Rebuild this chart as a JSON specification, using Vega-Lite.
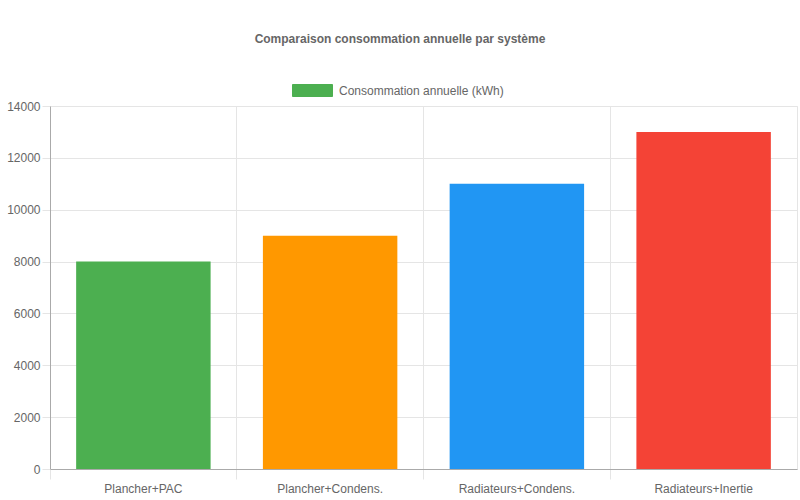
{
  "$schema": "https://vega.github.io/schema/vega-lite/v6.json",
  "autosize": "none",
  "width": 747,
  "height": 363,
  "padding": {"left": 50, "top": 106, "right": 3, "bottom": 31},
  "background": "white",
  "config": {
    "font": "Liberation Sans",
    "view": {"stroke": "#e5e5e5", "strokeWidth": 1}
  },
  "title": {
    "text": "Comparaison consommation annuelle par système",
    "font": "Liberation Sans",
    "fontSize": 12,
    "fontWeight": "bold",
    "color": "#666666",
    "anchor": "middle",
    "frame": "group",
    "dx": -23.5,
    "offset": 24
  },
  "data": {
    "values": [
      {"systeme": "Plancher+PAC", "conso": 8000, "serie": "Consommation annuelle (kWh)"},
      {"systeme": "Plancher+Condens.", "conso": 9000, "serie": "Consommation annuelle (kWh)"},
      {"systeme": "Radiateurs+Condens.", "conso": 11000, "serie": "Consommation annuelle (kWh)"},
      {"systeme": "Radiateurs+Inertie", "conso": 13000, "serie": "Consommation annuelle (kWh)"}
    ]
  },
  "mark": {"type": "bar", "strokeWidth": 0},
  "encoding": {
    "x": {
      "field": "systeme",
      "type": "nominal",
      "sort": null,
      "scale": {"paddingInner": 0.28, "paddingOuter": 0.14},
      "axis": {
        "title": null,
        "bandPosition": -0.19444,
        "labelOffset": 0,
        "labelAngle": 0,
        "labelFont": "Liberation Sans",
        "labelFontSize": 12,
        "labelColor": "#666666",
        "labelPadding": 4,
        "grid": true,
        "gridColor": "#e5e5e5",
        "tickColor": "#e5e5e5",
        "tickSize": 10,
        "domainColor": "#aaaaaa"
      }
    },
    "y": {
      "field": "conso",
      "type": "quantitative",
      "scale": {"domain": [0, 14000], "nice": false},
      "axis": {
        "title": null,
        "values": [0, 2000, 4000, 6000, 8000, 10000, 12000, 14000],
        "format": "d",
        "labelFont": "Liberation Sans",
        "labelFontSize": 12,
        "labelColor": "#666666",
        "labelPadding": 2,
        "gridColor": "#e5e5e5",
        "tickColor": "#e5e5e5",
        "tickSize": 8,
        "domainColor": "#aaaaaa"
      }
    },
    "fill": {
      "field": "systeme",
      "type": "nominal",
      "sort": null,
      "scale": {"range": ["#4CAF50", "#FF9800", "#2196F3", "#F44336"]},
      "legend": null
    },
    "stroke": {
      "field": "serie",
      "type": "nominal",
      "scale": {"range": ["#4CAF50"]},
      "legend": {
        "title": null,
        "orient": "none",
        "legendX": 242,
        "legendY": -36,
        "padding": 0,
        "symbolType": "M-1,-0.3H1V0.3H-1Z",
        "symbolSize": 1600,
        "symbolFillColor": "#4CAF50",
        "symbolStrokeWidth": 1,
        "labelFont": "Liberation Sans",
        "labelFontSize": 12,
        "labelColor": "#666666",
        "labelOffset": 6,
        "labelLimit": 400
      }
    }
  }
}
